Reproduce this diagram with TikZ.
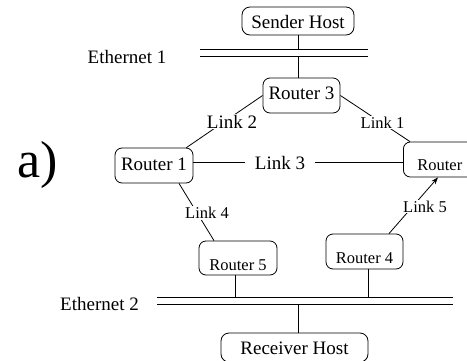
\documentclass[tikz,border=0pt]{standalone}
\usepackage{fontspec}
\setmainfont{Liberation Serif}
\usetikzlibrary{arrows.meta}
\newcommand{\bigtext}{\fontsize{19}{22}\selectfont}
\newcommand{\smalltext}{\fontsize{16.5}{19}\selectfont}
\newcommand{\hugetext}{\fontsize{52}{60}\selectfont}
\tikzset{
    host/.style={
    rectangle,rounded corners=8pt,draw=black,inner sep=0pt,font=\bigtext
    },
    router/.style={
    rectangle,rounded corners=7pt,draw=black,inner sep=0pt,font=\bigtext
    },
    srouter/.style={
    router,font=\smalltext
    },
    lift/.style={
    text height=#1,text depth=0pt
    },
    link/.style={
    fill=white,inner sep=1pt,font=\bigtext
    },
    slink/.style={
    link,font=\smalltext
    },
    bus/.style={
    double=white,double distance=6pt,line width=1pt
    },
}
\begin{document}
\begin{tikzpicture}[x=1pt,y=-1pt,line width=0.8pt]
  \useasboundingbox (0,0) rectangle (467,360);
  \clip (0,0) rectangle (467,360);

  % hosts and routers
  \node[host,minimum width=112pt,minimum height=28pt,lift=14pt] (snd) at (298,21) {Sender Host};
  \node[router,minimum width=77pt,minimum height=35pt,lift=7pt] (r3) at (301.5,95.5) {Router 3};
  \node[router,minimum width=78pt,minimum height=35pt,lift=9pt] (r1) at (154,165.5) {Router 1};
  \node[srouter,anchor=west,inner xsep=14pt,text width=71pt,align=left,minimum height=35pt,lift=21pt] (r2) at (403,159.5) {Router};
  \node[srouter,minimum width=78pt,minimum height=34pt,lift=24pt] (r5) at (238,258) {Router 5};
  \node[srouter,minimum width=77pt,minimum height=35pt,lift=23pt] (r4) at (364.5,251.5) {Router 4};
  \node[host,minimum width=147pt,minimum height=29pt,lift=13pt] (rcv) at (294.5,347.5) {Receiver Host};

  % ends of the two ethernets
  \coordinate (e1w) at (200,52.5);
  \coordinate (e1e) at (368,52.5);
  \coordinate (e2w) at (157,300.5);
  \coordinate (e2e) at (453,300.5);

  % links between routers
  \draw ([xshift=-7pt]r1.north east) -- (r3.west);
  \draw (r3.east) -- ([xshift=7pt]r2.north west);
  \draw ([yshift=3.5pt]r1.east) coordinate (l3a) -- (l3a -| r2.west);
  \draw ([xshift=25pt]r1.south) -- ([xshift=-24pt]r5.north);
  \draw[-{Stealth[length=7pt,width=5pt]}] ([xshift=24.5pt]r4.north) -- ([xshift=35pt]r2.south west);

  % drops onto the ethernets
  \draw (snd.south) -- (r3.north -| snd.south);
  \draw ([xshift=-3pt]r5.south) coordinate (d5) -- (d5 |- e2w);
  \draw ([xshift=3.5pt]r4.south) coordinate (d4) -- (d4 |- e2w);
  \draw ([xshift=3.5pt]rcv.north) coordinate (dr) -- (dr |- e2w);

  \draw[bus] (e1w) -- (e1e);
  \draw[bus] (e2w) -- (e2e);

  % labels
  \node[font=\bigtext] (eth1) at (127,56.5) {Ethernet 1};
  \node[font=\bigtext] (eth2) at (99.5,304) {Ethernet 2};
  \node[link] (l2) at (232,121.5) {Link 2};
  \node[slink] (l1) at (382.5,122.5) {Link 1};
  \node[link,inner xsep=10pt] (l3) at (280,163) {Link 3};
  \node[slink] (l4) at (207,213) {Link 4};
  \node[slink] (l5) at (425,206.5) {Link 5};
  \node[font=\hugetext] (tag) at (38,164.5) {a)};
\end{tikzpicture}
\end{document}
